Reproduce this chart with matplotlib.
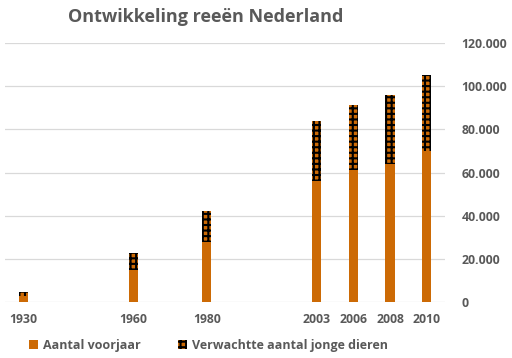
import matplotlib
matplotlib.use("Agg")
import matplotlib.pyplot as plt
import numpy as np

plt.rcParams['font.family'] = ['Open Sans', 'DejaVu Sans']
plt.rcParams['hatch.linewidth'] = 1.5
plt.rcParams['hatch.color'] = 'black'

categories = ['1930', '', '', '1960', '', '1980', '', '', '2003', '2006', '2008', '2010']
aantal_voorjaar = [3000, 0, 0, 15000, 0, 28000, 0, 0, 56000, 61000, 64000, 70000]
verwachte_jong = [1500, 0, 0, 7500, 0, 14000, 0, 0, 28000, 30500, 32000, 35000]
yticks = [0, 20000, 40000, 60000, 80000, 100000, 120000]
ytick_labels = ['0', '20.000', '40.000', '60.000', '80.000', '100.000', '120.000']

orange = '#CC6A05'
gray = '#595959'

fig = plt.figure(figsize=(5.12, 3.58), dpi=100)
ax = fig.add_axes([5/512, 1 - 302/358, 440/512, 259/358])

x = np.arange(len(categories))
w = 0.25
ax.bar(x, aantal_voorjaar, width=w, color=orange, linewidth=0, label='Aantal voorjaar')
ax.bar(x, verwachte_jong, width=w, bottom=aantal_voorjaar, color=orange,
       hatch='+++', edgecolor='black', linewidth=0, label='Verwachtte aantal jonge dieren')

ax.set_xlim(-0.5, len(categories) - 0.5)
ax.set_ylim(0, 120000)
ax.set_yticks(yticks)
ax.set_yticklabels(ytick_labels)
ax.yaxis.tick_right()
ax.set_xticks(x)
ax.set_xticklabels(categories)
ax.tick_params(axis='both', length=0, colors=gray, labelsize=8.8)
ax.tick_params(axis='y', pad=12)
ax.tick_params(axis='x', pad=8)
for lbl in ax.get_xticklabels() + ax.get_yticklabels():
    lbl.set_fontweight('bold')
for s in ax.spines.values():
    s.set_visible(False)
ax.grid(axis='y', color='#D9D9D9', linewidth=0.9)
ax.set_axisbelow(True)

fig.text(68/512, 1 - 17/358, 'Ontwikkeling reeën Nederland', fontsize=13,
         fontweight='bold', color=gray, va='center', ha='left')

leg = fig.legend(loc='center left', bbox_to_anchor=(18/512, 1 - 345/358), ncol=2,
                 frameon=False, fontsize=9, handlelength=0.7, handleheight=0.7,
                 columnspacing=3.0, handletextpad=0.4)
for t in leg.get_texts():
    t.set_color(gray)
    t.set_fontweight('bold')

fig.savefig('out.png', dpi=100)
